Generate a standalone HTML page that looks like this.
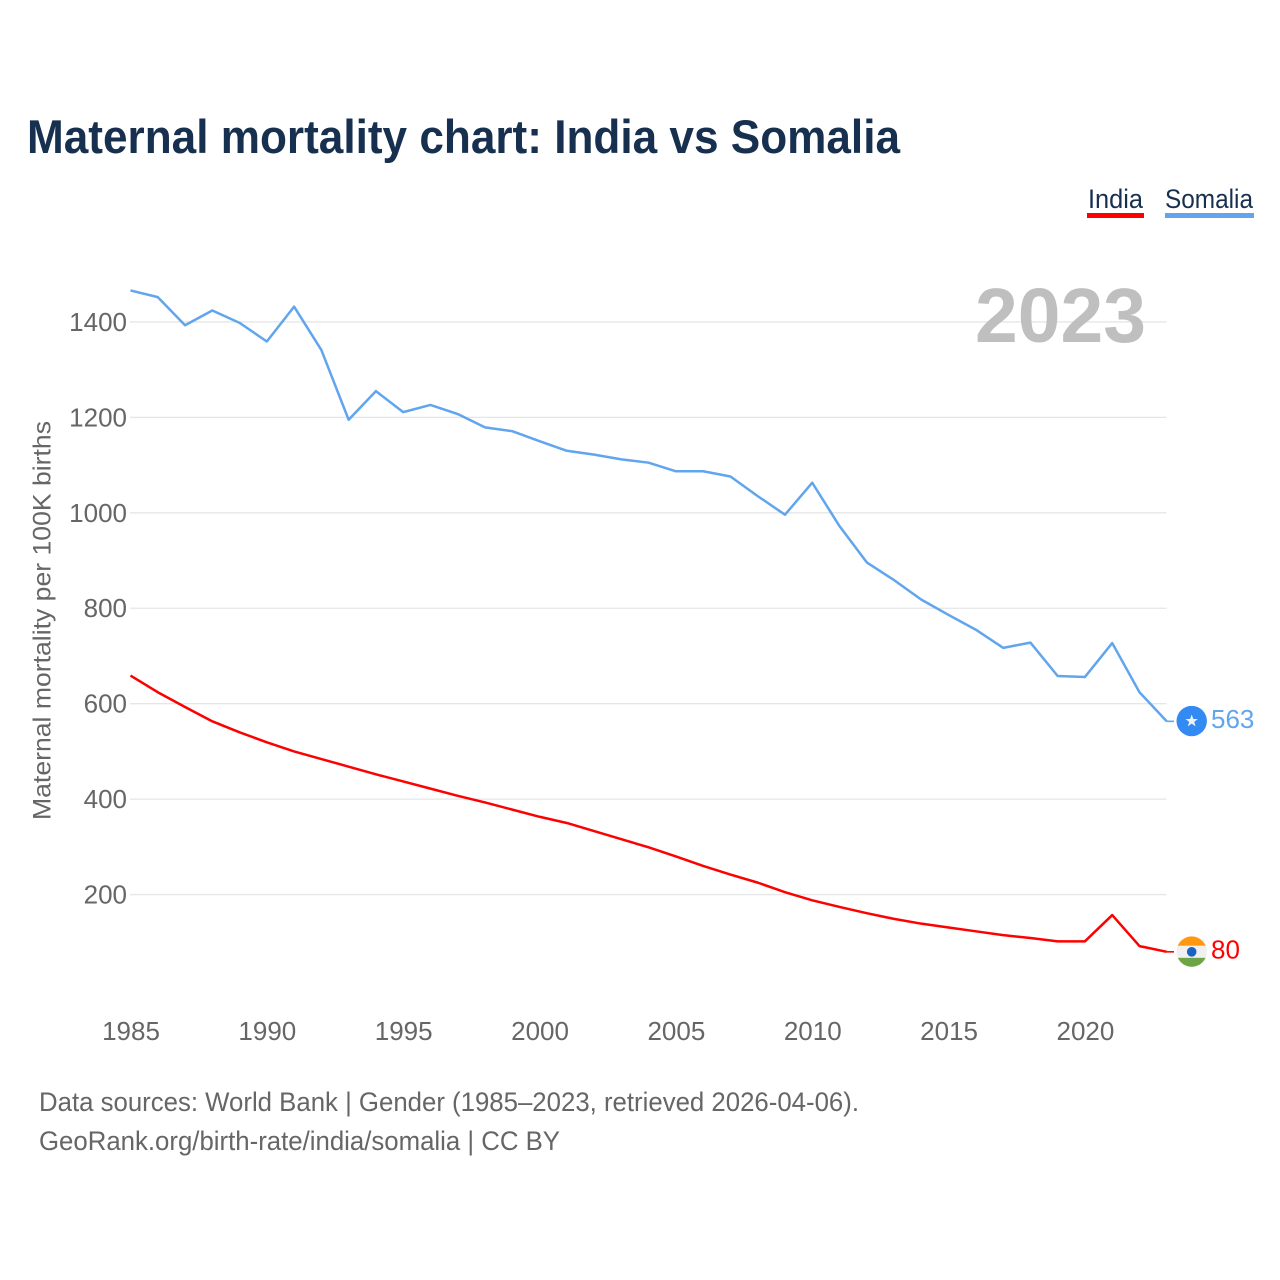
<!DOCTYPE html>
<html lang="en">
<head>
<meta charset="utf-8">
<title>Maternal mortality chart: India vs Somalia</title>
<style>
html,body{margin:0;padding:0;background:#fff;}
svg{display:block;}
text{font-family:"Liberation Sans",sans-serif;}
</style>
</head>
<body>
<svg id="chart" xmlns="http://www.w3.org/2000/svg" width="1280" height="1280" viewBox="0 0 1280 1280">
  <rect x="0" y="0" width="1280" height="1280" fill="#ffffff"/>
  <text x="27" y="153" font-size="47" font-weight="700" fill="#18304f" textLength="873" lengthAdjust="spacingAndGlyphs">Maternal mortality chart: India vs Somalia</text>

  <g id="grid"></g>
  <g id="y-ticks"></g>
  <g id="x-ticks"></g>

  <text x="975" y="342" font-size="77" font-weight="700" fill="#bfbfbf" textLength="171" lengthAdjust="spacingAndGlyphs">2023</text>

  <text transform="translate(50.5,820) rotate(-90)" font-size="25" fill="#666666" textLength="399" lengthAdjust="spacingAndGlyphs">Maternal mortality per 100K births</text>

  <polyline id="line-somalia" fill="none" stroke="#60a5ed" stroke-width="2.5" stroke-linejoin="round"></polyline>
  <polyline id="line-india" fill="none" stroke="#ff0000" stroke-width="2.5" stroke-linejoin="round"></polyline>

  <line id="conn-somalia" stroke="#60a5ed" stroke-width="1.6"></line>
  <line id="conn-india" stroke="#ff0000" stroke-width="1.6"></line>

  <defs>
    <clipPath id="india-clip"><circle id="india-clip-circle" cx="1191.7" cy="0" r="15.2"/></clipPath>
  </defs>
  <g id="flag-somalia">
    <circle cx="0" cy="0" r="15.2" fill="#338af3"/>
    <polygon fill="#f0f0f0" points="0,-6.5 1.6,-2 6.2,-2 2.5,0.8 3.9,5.3 0,2.6 -3.9,5.3 -2.5,0.8 -6.2,-2 -1.6,-2"/>
  </g>
  <g id="flag-india" clip-path="url(#india-clip)"></g>

  <text id="value-somalia" x="1211" font-size="26" fill="#60a5ed">563</text>
  <text id="value-india" x="1211" font-size="26" fill="#ff0000">80</text>

  <g>
    <g>
      <text x="1088" y="208" font-size="27" fill="#18304f" textLength="55" lengthAdjust="spacingAndGlyphs">India</text>
      <rect x="1087" y="213" width="57" height="5" fill="#ff0000"/>
    </g>
    <g>
      <text x="1165" y="208" font-size="27" fill="#18304f" textLength="88" lengthAdjust="spacingAndGlyphs">Somalia</text>
      <rect x="1165" y="213" width="89" height="5" fill="#60a5ed"/>
    </g>
  </g>

  <text x="39" y="1111" font-size="27" fill="#666666" textLength="820" lengthAdjust="spacingAndGlyphs">Data sources: World Bank | Gender (1985–2023, retrieved 2026-04-06).</text>
  <text x="39" y="1150" font-size="27" fill="#666666" textLength="521" lengthAdjust="spacingAndGlyphs">GeoRank.org/birth-rate/india/somalia | CC BY</text>
</svg>
<script>
const years = [1985,1986,1987,1988,1989,1990,1991,1992,1993,1994,1995,1996,1997,1998,1999,2000,2001,2002,2003,2004,2005,2006,2007,2008,2009,2010,2011,2012,2013,2014,2015,2016,2017,2018,2019,2020,2021,2022,2023];
const somalia = [1466,1452,1393,1424,1398,1359,1432,1341,1195,1255,1211,1226,1207,1179,1171,1150,1130,1122,1112,1105,1087,1087,1076,1035,996,1063,972,896,859,818,786,755,717,728,658,656,727,624,563];
const india = [659,624,593,563,540,519,500,484,468,452,437,422,407,393,378,363,350,333,316,299,280,260,242,225,205,188,174,161,149,139,131,123,115,109,102,102,157,92,80];
const yTicks = [200,400,600,800,1000,1200,1400];
const xTicks = [1985,1990,1995,2000,2005,2010,2015,2020];

const NS = 'http://www.w3.org/2000/svg';
const x = function (yr) { return 130.5 + (yr - 1985) * 27.27; };
const y = function (v) { return 990 - v * 0.4772; };
const flagX = 1191.7;

const grid = document.getElementById('grid');
const yGroup = document.getElementById('y-ticks');
const xGroup = document.getElementById('x-ticks');

yTicks.forEach(function (t) {
  const l = document.createElementNS(NS, 'line');
  
  
  l.setAttribute('x1', 130);
  l.setAttribute('x2', 1166.5);
  l.setAttribute('y1', y(t));
  l.setAttribute('y2', y(t));
  l.setAttribute('stroke', '#e6e6e6');
  l.setAttribute('stroke-width', '1.3');
  grid.appendChild(l);

  const s = document.createElementNS(NS, 'text');
  
  
  s.setAttribute('x', 127);
  s.setAttribute('y', y(t) + 9);
  s.setAttribute('text-anchor', 'end');
  s.setAttribute('font-size', '26');
  s.setAttribute('fill', '#666666');
  s.textContent = t;
  yGroup.appendChild(s);
});

xTicks.forEach(function (t) {
  const s = document.createElementNS(NS, 'text');
  
  
  s.setAttribute('x', x(t) + 0.5);
  s.setAttribute('y', 1040);
  s.setAttribute('text-anchor', 'middle');
  s.setAttribute('font-size', '26');
  s.setAttribute('fill', '#666666');
  s.textContent = t;
  xGroup.appendChild(s);
});

function pts(vals) {
  return vals.map(function (v, i) { return x(years[i]) + ',' + y(v); }).join(' ');
}
document.getElementById('line-somalia').setAttribute('points', pts(somalia));
document.getElementById('line-india').setAttribute('points', pts(india));

function endMarker(vals, name) {
  const last = vals[vals.length - 1];
  const c = document.getElementById('conn-' + name);
  c.setAttribute('x1', x(years[years.length - 1]));
  c.setAttribute('x2', 1174);
  c.setAttribute('y1', y(last));
  c.setAttribute('y2', y(last));
  const t = document.getElementById('value-' + name);
  t.setAttribute('y', y(last) + 6.5);
  t.textContent = last;
}
endMarker(somalia, 'somalia');
endMarker(india, 'india');

const somaliaLast = y(somalia[somalia.length - 1]);
const indiaLast = y(india[india.length - 1]);
document.getElementById('flag-somalia').setAttribute('transform', 'translate(' + flagX + ',' + (somaliaLast - 0.3) + ')');
document.getElementById('india-clip-circle').setAttribute('cy', indiaLast - 0.2);

const flagIndia = document.getElementById('flag-india');
[['#ff9811', -16, 10], ['#f0f0f0', -6, 12], ['#6da544', 6, 11]].forEach(function (b) {
  const r = document.createElementNS(NS, 'rect');
  
  
  r.setAttribute('x', flagX - 16);
  r.setAttribute('y', indiaLast + b[1]);
  r.setAttribute('width', 32);
  r.setAttribute('height', b[2]);
  r.setAttribute('fill', b[0]);
  flagIndia.appendChild(r);
});
const chakra = document.createElementNS(NS, 'circle');


chakra.setAttribute('cx', flagX);
chakra.setAttribute('cy', indiaLast);
chakra.setAttribute('r', 4.8);
chakra.setAttribute('fill', '#1a63c0');
flagIndia.appendChild(chakra);
</script>
</body>
</html>
